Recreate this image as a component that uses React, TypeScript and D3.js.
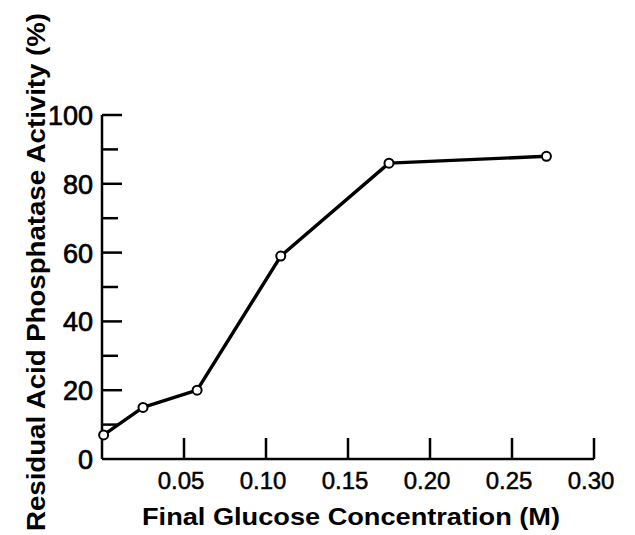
import React from "react";
import * as d3 from "d3";

const glucose = [0.001, 0.025, 0.058, 0.109, 0.175, 0.271];
const activity = [7, 15, 20, 59, 86, 88];
const xTicks = [0.05, 0.1, 0.15, 0.2, 0.25, 0.3];
const xTickLabels = ["0.05", "0.10", "0.15", "0.20", "0.25", "0.30"];
const yMajor = [0, 20, 40, 60, 80, 100];
const yMinor = [10, 30, 50, 70, 90];
const xTitle = "Final Glucose Concentration (M)";
const yTitle = "Residual Acid Phosphatase Activity (%)";

const FONT = "'Liberation Sans', Arial, sans-serif";

export default function App() {
  const W = 635, H = 535;
  const x = d3.scaleLinear().domain([0, 0.3]).range([102, 594]);
  const y = d3.scaleLinear().domain([0, 100]).range([459, 115]);
  const line = d3
    .line<number>()
    .x((_, i) => x(glucose[i]))
    .y((d) => y(d));

  return (
    <svg
      width={W}
      height={H}
      style={{ position: "absolute", left: 0, top: 0, background: "#fff" }}
    >
      {/* axes */}
      <line x1={x(0)} x2={x(0)} y1={y(100)} y2={y(0)} stroke="#000" strokeWidth={2.5} />
      <line x1={x(0)} x2={x(0.3)} y1={y(0)} y2={y(0)} stroke="#000" strokeWidth={2.5} />
      {yMajor.map((v) => (
        <g key={"ym" + v}>
          {v > 0 && (
            <line x1={x(0)} x2={x(0) + 20} y1={y(v)} y2={y(v)} stroke="#000" strokeWidth={2.5} />
          )}
          <text
            x={93}
            y={y(v) + 10}
            textAnchor="end"
            fontFamily={FONT}
            fontSize={27}
            stroke="#000"
            strokeWidth={0.7}
            fill="#000"
          >
            {v}
          </text>
        </g>
      ))}
      {yMinor.map((v) => (
        <line key={"yn" + v} x1={x(0)} x2={x(0) + 16} y1={y(v)} y2={y(v)} stroke="#000" strokeWidth={2.5} />
      ))}
      {xTicks.map((v, i) => (
        <g key={"xt" + v}>
          <line x1={x(v)} x2={x(v)} y1={y(0)} y2={y(0) - 21} stroke="#000" strokeWidth={2.5} />
          <text
            x={x(v) - 3}
            y={489}
            textAnchor="middle"
            fontFamily={FONT}
            fontSize={24}
            stroke="#000"
            strokeWidth={0.5}
            fill="#000"
          >
            {xTickLabels[i]}
          </text>
        </g>
      ))}
      <text
        x={351}
        y={525}
        textAnchor="middle"
        fontFamily={FONT}
        fontSize={24}
        fontWeight="bold"
        textLength={418}
        lengthAdjust="spacingAndGlyphs"
        fill="#000"
      >
        {xTitle}
      </text>
      <text
        transform={`translate(45,272) rotate(-90)`}
        textAnchor="middle"
        fontFamily={FONT}
        fontSize={25}
        fontWeight="bold"
        textLength={518}
        lengthAdjust="spacingAndGlyphs"
        fill="#000"
      >
        {yTitle}
      </text>
      <path d={line(activity) || ""} fill="none" stroke="#000" strokeWidth={3.4} strokeLinejoin="round" />
      {activity.map((v, i) => (
        <circle key={"p" + i} cx={x(glucose[i])} cy={y(v)} r={4.5} fill="#fff" stroke="#000" strokeWidth={2} />
      ))}
    </svg>
  );
}
